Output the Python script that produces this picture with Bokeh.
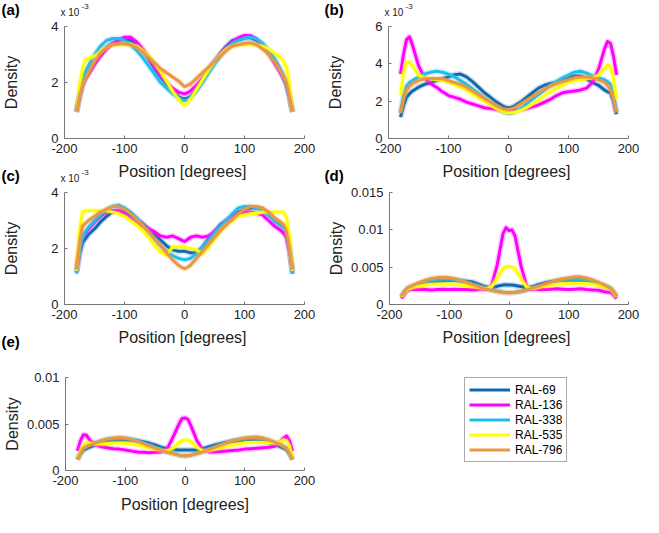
from bokeh.plotting import figure
from bokeh.models import Range1d, FixedTicker, Label, Legend, LegendItem
from bokeh.layouts import column, row
from bokeh.embed import file_html
from bokeh.resources import INLINE

FONT = "Liberation Sans"

# ---------------- data (density in units of 1e-3) ----------------
X = [-180, -175, -170, -165, -160,
     -150, -140, -130, -120, -110, -100, -90, -80, -70, -60, -50, -40, -30, -20, -10,
     -5, 0, 5,
     10, 20, 30, 40, 50, 60, 70, 80, 90, 100, 110, 120, 130, 140, 150,
     160, 165, 170, 175, 180]

NAMES = ["RAL-69", "RAL-136", "RAL-338", "RAL-535", "RAL-796"]
COLORS = ["#1069AD", "#FF00FF", "#1EBDF0", "#FFFF00", "#EA9744"]
XTICKS = [-200, -100, 0, 100, 200]
XTICK_LABELS = ["-200", "-100", "0", "100", "200"]
TAGS = ["(a)", "(b)", "(c)", "(d)", "(e)"]

# panel (a)
a_69 = [0.95, 1.5, 1.9, 2.15, 2.35,
        2.7, 3.0, 3.25, 3.4, 3.5, 3.55, 3.5, 3.4, 3.15, 2.85, 2.5, 2.2, 1.95, 1.7, 1.5,
        1.44, 1.42, 1.44,
        1.5, 1.75, 2.05, 2.4, 2.75, 3.05, 3.3, 3.5, 3.55, 3.6, 3.6, 3.5, 3.35, 3.1, 2.8,
        2.4, 2.2, 1.9, 1.5, 0.95]
a_136 = [0.95, 1.5, 1.95, 2.15, 2.3,
         2.65, 2.95, 3.2, 3.4, 3.5, 3.62, 3.62, 3.45, 3.2, 2.9, 2.55, 2.25, 2.0, 1.8, 1.65,
         1.62, 1.6, 1.63,
         1.7, 1.9, 2.15, 2.45, 2.75, 3.0, 3.25, 3.45, 3.6, 3.68, 3.68, 3.55, 3.35, 3.05, 2.7,
         2.35, 2.15, 1.95, 1.5, 0.95]
a_338 = [0.95, 1.6, 2.1, 2.4, 2.6,
         3.0, 3.3, 3.5, 3.57, 3.57, 3.5, 3.35, 3.15, 2.9, 2.6, 2.3, 2.0, 1.8, 1.6, 1.45,
         1.38, 1.35, 1.38,
         1.45, 1.7, 2.0, 2.35, 2.65, 2.95, 3.2, 3.4, 3.5, 3.58, 3.62, 3.55, 3.4, 3.15, 2.85,
         2.45, 2.2, 1.95, 1.5, 0.95]
a_535 = [0.95, 1.9, 2.5, 2.8, 2.85,
         2.95, 3.1, 3.25, 3.35, 3.35, 3.35, 3.35, 3.3, 3.15, 2.95, 2.7, 2.4, 2.05, 1.7, 1.4,
         1.27, 1.2, 1.27,
         1.4, 1.75, 2.1, 2.45, 2.75, 3.0, 3.2, 3.3, 3.35, 3.35, 3.35, 3.35, 3.3, 3.2, 3.05,
         2.9, 2.75, 2.55, 1.9, 0.95]
a_796 = [0.95, 1.5, 1.9, 2.15, 2.35,
         2.75, 3.05, 3.25, 3.35, 3.38, 3.38, 3.35, 3.25, 3.1, 2.9, 2.7, 2.5, 2.35, 2.2, 2.05,
         1.95, 1.85, 1.9,
         1.95, 2.15, 2.35, 2.55, 2.75, 2.95, 3.15, 3.3, 3.35, 3.4, 3.42, 3.35, 3.2, 3.0, 2.75,
         2.4, 2.2, 2.0, 1.5, 0.95]

# panel (b)
b_69 = [1.15, 1.75, 2.2, 2.4, 2.55,
        2.75, 2.9, 3.0, 3.1, 3.2, 3.3, 3.42, 3.45, 3.3, 3.05, 2.75, 2.45, 2.2, 1.95, 1.75,
        1.68, 1.65, 1.68,
        1.75, 1.95, 2.2, 2.45, 2.7, 2.85, 2.95, 3.0, 3.1, 3.25, 3.35, 3.35, 3.2, 3.0, 2.85,
        2.6, 2.5, 2.45, 2.0, 1.3]
b_136 = [3.45, 4.5, 5.3, 5.45, 5.0,
         3.9, 3.25, 2.95, 2.75, 2.5, 2.3, 2.2, 2.1, 1.95, 1.85, 1.75, 1.65, 1.6, 1.55, 1.5,
         1.5, 1.5, 1.5,
         1.5, 1.55, 1.6, 1.7, 1.8, 1.95, 2.1, 2.3, 2.45, 2.5, 2.55, 2.6, 2.7, 3.0, 3.7,
         4.8, 5.2, 5.1, 4.4, 3.4]
b_338 = [1.4, 2.3, 2.8, 3.0, 3.1,
         3.3, 3.45, 3.55, 3.6, 3.55, 3.45, 3.3, 3.1, 2.9, 2.65, 2.4, 2.15, 1.9, 1.65, 1.45,
         1.38, 1.35, 1.37,
         1.4, 1.6, 1.85, 2.1, 2.35, 2.6, 2.85, 3.05, 3.25, 3.4, 3.55, 3.6, 3.5, 3.35, 3.25,
         3.15, 3.05, 2.9, 2.3, 1.4]
b_535 = [2.3, 3.5, 4.1, 4.1, 3.9,
         3.4, 3.25, 3.2, 3.15, 3.1, 3.0, 2.9, 2.75, 2.6, 2.4, 2.2, 2.0, 1.8, 1.6, 1.45,
         1.4, 1.38, 1.39,
         1.4, 1.5, 1.65, 1.85, 2.05, 2.3, 2.5, 2.7, 2.85, 3.0, 3.1, 3.15, 3.2, 3.25, 3.4,
         3.75, 3.95, 3.85, 3.2, 2.1]
b_796 = [1.35, 2.1, 2.6, 2.8, 2.95,
         3.1, 3.2, 3.22, 3.22, 3.2, 3.1, 3.0, 2.9, 2.75, 2.55, 2.35, 2.15, 1.95, 1.75, 1.6,
         1.57, 1.55, 1.58,
         1.65, 1.85, 2.05, 2.25, 2.45, 2.65, 2.8, 2.95, 3.05, 3.15, 3.25, 3.3, 3.3, 3.25, 3.15,
         3.0, 2.85, 2.6, 2.1, 1.4]

# panel (c)
c_69 = [1.15, 1.8, 2.2, 2.35, 2.5,
        2.7, 2.95, 3.15, 3.3, 3.35, 3.3, 3.2, 3.05, 2.9, 2.7, 2.5, 2.3, 2.1, 1.95, 1.9,
        1.9, 1.9, 1.88,
        1.85, 1.85, 2.05, 2.35, 2.6, 2.85, 3.0, 3.15, 3.3, 3.4, 3.45, 3.45, 3.4, 3.2, 3.0,
        2.85, 2.75, 2.6, 2.0, 1.1]
c_136 = [1.2, 1.9, 2.4, 2.55, 2.7,
         2.95, 3.15, 3.3, 3.35, 3.35, 3.25, 3.05, 2.9, 2.8, 2.7, 2.6, 2.45, 2.4, 2.45, 2.35,
         2.3, 2.25, 2.32,
         2.4, 2.45, 2.4, 2.45, 2.6, 2.8, 3.0, 3.15, 3.25, 3.3, 3.3, 3.25, 3.2, 3.0, 2.8,
         2.65, 2.55, 2.4, 1.9, 1.2]
c_338 = [1.1, 1.9, 2.4, 2.6, 2.75,
         3.0, 3.2, 3.4, 3.5, 3.55, 3.45, 3.3, 3.1, 2.85, 2.6, 2.35, 2.1, 1.9, 1.75, 1.65,
         1.62, 1.6, 1.62,
         1.65, 1.8, 2.05, 2.3, 2.55, 2.8, 3.0, 3.25, 3.45, 3.5, 3.5, 3.45, 3.35, 3.2, 3.0,
         2.85, 2.75, 2.6, 2.0, 1.1]
c_535 = [1.2, 2.6, 3.3, 3.35, 3.35,
         3.35, 3.35, 3.35, 3.3, 3.25, 3.15, 3.0, 2.85, 2.65, 2.4, 2.1, 1.87, 1.76, 2.05, 2.05,
         2.05, 2.05, 2.02,
         2.0, 1.95, 1.8, 2.05, 2.35, 2.6, 2.85, 3.0, 3.15, 3.2, 3.25, 3.25, 3.3, 3.3, 3.3,
         3.3, 3.3, 3.1, 2.4, 1.2]
c_796 = [1.25, 2.2, 2.8, 2.9, 3.0,
         3.15, 3.3, 3.4, 3.5, 3.5, 3.4, 3.25, 3.05, 2.85, 2.6, 2.35, 2.1, 1.85, 1.6, 1.4,
         1.33, 1.28, 1.33,
         1.4, 1.65, 1.9, 2.15, 2.4, 2.65, 2.85, 3.05, 3.25, 3.4, 3.5, 3.5, 3.45, 3.3, 3.1,
         2.95, 2.85, 2.6, 2.0, 1.25]

# panel (d)
d_69 = [1.0, 1.6, 2.0, 2.2, 2.35,
        2.6, 2.8, 3.0, 3.1, 3.15, 3.2, 3.2, 3.15, 3.1, 3.0, 2.7, 2.4, 2.2, 2.45, 2.6,
        2.65, 2.6, 2.6,
        2.55, 2.4, 2.25, 2.4, 2.7, 2.9, 3.05, 3.15, 3.2, 3.2, 3.2, 3.15, 3.05, 2.9, 2.7,
        2.45, 2.3, 2.1, 1.6, 1.0]
d_136 = [0.8, 1.5, 1.9, 2.0, 2.0,
         2.05, 2.0, 1.95, 2.0, 2.05, 2.0, 2.05, 2.0, 2.0, 1.95, 2.0, 2.05, 2.3, 5.2, 9.5,
         10.3, 9.9, 10.0,
         9.2, 5.2, 2.3, 2.0, 2.05, 2.0, 2.05, 2.1, 2.05, 2.0, 2.05, 2.1, 2.0, 1.95, 1.9,
         1.7, 1.65, 1.6, 1.3, 0.8]
d_338 = [1.1, 1.7, 2.2, 2.4, 2.55,
         2.8, 3.05, 3.25, 3.35, 3.4, 3.4, 3.3, 3.15, 2.95, 2.7, 2.45, 2.2, 1.95, 1.8, 1.65,
         1.62, 1.6, 1.62,
         1.65, 1.75, 1.95, 2.2, 2.45, 2.7, 2.95, 3.15, 3.3, 3.4, 3.45, 3.4, 3.3, 3.1, 2.85,
         2.55, 2.35, 2.15, 1.7, 1.1]
d_535 = [1.0, 1.6, 2.0, 2.15, 2.3,
         2.45, 2.6, 2.7, 2.75, 2.75, 2.75, 2.7, 2.6, 2.5, 2.4, 2.25, 2.1, 2.3, 3.5, 4.8,
         5.05, 5.1, 5.05,
         4.8, 3.5, 2.3, 2.1, 2.3, 2.45, 2.6, 2.7, 2.8, 2.85, 2.85, 2.85, 2.8, 2.7, 2.55,
         2.35, 2.2, 2.05, 1.6, 1.0]
d_796 = [1.1, 1.7, 2.2, 2.4, 2.6,
         2.95, 3.25, 3.5, 3.6, 3.65, 3.6, 3.45, 3.2, 2.95, 2.65, 2.35, 2.1, 1.9, 1.75, 1.62,
         1.58, 1.55, 1.58,
         1.62, 1.75, 1.95, 2.2, 2.45, 2.75, 3.0, 3.25, 3.45, 3.6, 3.7, 3.7, 3.55, 3.3, 2.95,
         2.6, 2.4, 2.15, 1.7, 1.1]

# panel (e)
e_69 = [1.2, 1.8, 2.2, 2.35, 2.5,
        2.75, 2.95, 3.1, 3.2, 3.25, 3.3, 3.25, 3.2, 3.1, 2.95, 2.75, 2.5, 2.35, 2.25, 2.2,
        2.2, 2.2, 2.2,
        2.2, 2.2, 2.35, 2.55, 2.75, 2.9, 3.05, 3.15, 3.2, 3.3, 3.3, 3.25, 3.15, 3.0, 2.8,
        2.55, 2.4, 2.25, 1.8, 1.2]
e_136 = [2.1, 3.2, 3.85, 3.8, 3.3,
         2.75, 2.55, 2.45, 2.35, 2.3, 2.2, 2.1, 2.0, 1.95, 1.9, 1.95, 2.0, 2.3, 3.6, 5.0,
         5.6, 5.65, 5.5,
         4.8, 3.2, 2.2, 2.0, 2.0, 2.05, 2.1, 2.15, 2.2, 2.3, 2.35, 2.4, 2.45, 2.5, 2.6,
         3.1, 3.5, 3.7, 3.2, 2.1]
e_338 = [1.2, 1.9, 2.4, 2.6, 2.75,
         3.0, 3.2, 3.35, 3.45, 3.5, 3.45, 3.35, 3.2, 3.0, 2.75, 2.5, 2.25, 2.0, 1.85, 1.65,
         1.58, 1.55, 1.58,
         1.65, 1.85, 2.05, 2.3, 2.55, 2.8, 3.0, 3.2, 3.35, 3.45, 3.5, 3.5, 3.4, 3.25, 3.0,
         2.75, 2.6, 2.4, 1.9, 1.2]
e_535 = [1.3, 2.1, 2.7, 3.0, 2.95,
         2.85, 2.85, 2.9, 2.95, 2.95, 2.9, 2.85, 2.75, 2.6, 2.45, 2.3, 2.15, 2.1, 2.4, 3.0,
         3.2, 3.3, 3.25,
         3.1, 2.5, 2.1, 2.15, 2.3, 2.45, 2.6, 2.75, 2.85, 2.95, 3.0, 3.05, 3.0, 2.95, 2.95,
         3.1, 3.3, 3.2, 2.6, 1.3]
e_796 = [1.15, 1.85, 2.35, 2.55, 2.7,
         2.95, 3.2, 3.4, 3.5, 3.55, 3.5, 3.35, 3.15, 2.9, 2.65, 2.4, 2.15, 1.95, 1.8, 1.65,
         1.62, 1.6, 1.62,
         1.65, 1.8, 2.0, 2.25, 2.5, 2.75, 3.0, 3.2, 3.35, 3.5, 3.55, 3.6, 3.5, 3.3, 3.05,
         2.75, 2.55, 2.35, 1.85, 1.15]

A_SERIES = [a_69, a_136, a_338, a_535, a_796]
B_SERIES = [b_69, b_136, b_338, b_535, b_796]
C_SERIES = [c_69, c_136, c_338, c_535, c_796]
D_SERIES = [d_69, d_136, d_338, d_535, d_796]
E_SERIES = [e_69, e_136, e_338, e_535, e_796]

# ---------------- layout constants ----------------
TOTAL_W = 643
LEFT_W, RIGHT_W = 324, 319
BL, BR_L, BR_R = 60, 20, 15
FW = LEFT_W - BL - BR_L          # frame width (244)
FH = 112                         # frame height
T = 8                            # top border of panels
B12, B3 = 22, 47                 # bottom borders
S1, S2 = 18, 24                  # heights of text strips
LF = BL                          # left frame x in canvas
RF = LEFT_W + BL                 # right frame x in canvas
AXIS_COLOR = "#777777"
TEXT_COLOR = "#222222"


def make_panel(series, ytop, yticks, ylabels, width, right, bottom, xlabel, ylab_standoff):
    p = figure(width=width, height=T + FH + bottom,
               x_range=Range1d(-200, 200), y_range=Range1d(0, ytop),
               output_backend="svg", toolbar_location=None,
               min_border_left=BL, min_border_right=right,
               min_border_top=T, min_border_bottom=bottom)
    p.outline_line_color = None
    p.grid.visible = False
    for ys, c in zip(series, COLORS):
        p.line(X, ys, line_color=c, line_width=6, line_alpha=0.2, line_join="round")
        p.line(X, ys, line_color=c, line_width=3, line_join="round")
    p.xaxis.ticker = FixedTicker(ticks=XTICKS)
    p.xaxis.major_label_overrides = dict(zip(XTICKS, XTICK_LABELS))
    p.yaxis.ticker = FixedTicker(ticks=yticks)
    p.yaxis.major_label_overrides = dict(zip(yticks, ylabels))
    if xlabel:
        p.xaxis.axis_label = "Position [degrees]"
    p.yaxis.axis_label = "Density"
    for ax in (p.xaxis[0], p.yaxis[0]):
        ax.axis_line_color = AXIS_COLOR
        ax.major_tick_line_color = AXIS_COLOR
        ax.major_tick_in = 3
        ax.major_tick_out = 0
        ax.minor_tick_line_color = None
        ax.major_label_text_font = FONT
        ax.major_label_text_font_size = "13px"
        ax.major_label_text_color = TEXT_COLOR
        ax.axis_label_text_font = FONT
        ax.axis_label_text_font_size = "16px"
        ax.axis_label_text_font_style = "normal"
        ax.axis_label_text_color = TEXT_COLOR
    p.xaxis.major_label_standoff = 5
    p.xaxis.axis_label_standoff = 8
    p.yaxis.major_label_standoff = 6
    p.yaxis.axis_label_standoff = ylab_standoff
    return p


def mid_label(x, y, text, size, bold=False, align="left"):
    return Label(x=x, y=y, text=text, text_font=FONT, text_font_size=size,
                 text_font_style="bold" if bold else "normal",
                 text_color="black" if bold else TEXT_COLOR,
                 text_baseline="middle", text_align=align)


def tag(x, y, text):
    return [mid_label(x, y, text, "15px", bold=True)]


def exponent(x, y):
    # y is the centre of "x 10"; the power sits higher
    return [mid_label(x, y, "x 10", "10px"), mid_label(x + 21, y + 6, "-3", "8px")]


def xlabel(xc, y):
    return [mid_label(xc, y, "Position [degrees]", "16px", align="center")]


def make_strip(height, labels):
    s = figure(width=TOTAL_W, height=height,
               x_range=Range1d(0, TOTAL_W), y_range=Range1d(0, height),
               x_axis_type=None, y_axis_type=None,
               output_backend="svg", toolbar_location=None,
               min_border_left=0, min_border_right=0, min_border_top=0, min_border_bottom=0)
    s.outline_line_color = None
    for lab in labels:
        s.add_layout(lab)
    return s


pa = make_panel(A_SERIES, 4, [0, 2, 4], ["0", "2", "4"], LEFT_W, BR_L, B12, False, 28)
pb = make_panel(B_SERIES, 6, [0, 2, 4, 6], ["0", "2", "4", "6"], RIGHT_W, BR_R, B12, False, 28)
pc = make_panel(C_SERIES, 4, [0, 2, 4], ["0", "2", "4"], LEFT_W, BR_L, B12, False, 28)
pd = make_panel(D_SERIES, 15, [0, 5, 10, 15], ["0", "0.005", "0.01", "0.015"],
                RIGHT_W, BR_R, B12, False, 3)
pe = make_panel(E_SERIES, 10, [0, 5, 10], ["0", "0.005", "0.01"],
                LEFT_W, BR_L, B3, True, 3)

LC = LF + FW / 2
RC = RF + FW / 2
# strip coordinates are measured upward from the strip's bottom edge
strip1 = make_strip(S1, tag(1, S1 - 9, TAGS[0]) + exponent(LF, S1 - 12)
                    + tag(RF - 60, S1 - 9, TAGS[1]) + exponent(RF, S1 - 12))
strip2 = make_strip(S2, xlabel(LC, S2 - 10.5) + xlabel(RC, S2 - 10.5)
                    + tag(1, S2 - 14.5, TAGS[2]) + exponent(LF, S2 - 17.5)
                    + tag(RF - 60, S2 - 14.5, TAGS[3]))
strip3 = make_strip(S2, xlabel(LC, S2 - 10.5) + xlabel(RC, S2 - 10.5)
                    + tag(1, S2 - 14.5, TAGS[4]))

# legend panel
row3_h = T + FH + B3
pl = figure(width=RIGHT_W, height=row3_h, x_range=Range1d(0, 1), y_range=Range1d(-20, -19),
            output_backend="svg", toolbar_location=None,
            x_axis_type=None, y_axis_type=None,
            min_border_left=140, min_border_right=0, min_border_top=27, min_border_bottom=0)
pl.outline_line_color = None
items = []
for name, c, ys in zip(NAMES, COLORS, E_SERIES):
    r = pl.line(X, ys, line_color=c, line_width=3)
    items.append(LegendItem(label=name, renderers=[r]))
leg = Legend(items=items, location="top_left", orientation="vertical",
             label_text_font=FONT, label_text_font_size="12px", label_text_color="black",
             glyph_width=41, glyph_height=15, label_height=15, label_standoff=5,
             spacing=0, padding=4, margin=0,
             border_line_color="#555555", border_line_width=1,
             background_fill_color="white", background_fill_alpha=1.0)
pl.add_layout(leg, "center")

layout = column(strip1, row(pa, pb), strip2, row(pc, pd), strip3, row(pe, pl))

with open("out.html", "w") as f:
    f.write(file_html(layout, INLINE))
